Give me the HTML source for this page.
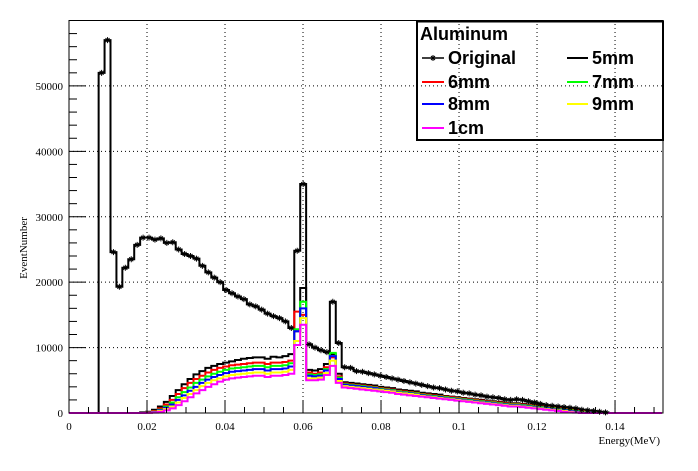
<!DOCTYPE html>
<html><head><meta charset="utf-8"><style>
html,body{margin:0;padding:0;background:#fff}
svg{display:block}
text{font-family:"Liberation Serif",serif}
.lg{font-family:"Liberation Sans",sans-serif;font-weight:bold;font-size:18px}
</style></head><body>
<svg id="chart" width="698" height="471" viewBox="0 0 698 471" xmlns="http://www.w3.org/2000/svg">
<g id="grid"></g>
<g id="series"></g>
<rect x="69" y="20.5" width="594" height="392.5" fill="none" stroke="#000" stroke-width="1"/>
<g id="axes"></g>
<text x="660" y="444" font-size="11" text-anchor="end">Energy(MeV)</text>
<text transform="translate(27,248) rotate(-90)" font-size="11" text-anchor="middle">EventNumber</text>
<g>
<rect x="417" y="21.5" width="246" height="118.5" fill="none" stroke="#000" stroke-width="2"/>
<text class="lg" x="420" y="40">Aluminum</text>
<g><line x1="422" y1="58" x2="444" y2="58" stroke="#000" stroke-width="1.5"/><path d="M430 58h6M433 55v6M431 56l4 4M435 56l-4 4" stroke="#000" stroke-width="1"/><text class="lg" x="448" y="64">Original</text></g>
<g><line x1="567" y1="58" x2="588" y2="58" stroke="#000" stroke-width="2"/><text class="lg" x="592" y="64">5mm</text></g>
<g><line x1="422" y1="82" x2="444" y2="82" stroke="#f00" stroke-width="2"/><text class="lg" x="448" y="88">6mm</text></g>
<g><line x1="567" y1="82" x2="588" y2="82" stroke="#0f0" stroke-width="2"/><text class="lg" x="592" y="88">7mm</text></g>
<g><line x1="422" y1="104" x2="444" y2="104" stroke="#00f" stroke-width="2"/><text class="lg" x="448" y="110">8mm</text></g>
<g><line x1="567" y1="104" x2="588" y2="104" stroke="#ff0" stroke-width="2"/><text class="lg" x="592" y="110">9mm</text></g>
<g><line x1="422" y1="128" x2="444" y2="128" stroke="#f0f" stroke-width="2"/><text class="lg" x="448" y="134">1cm</text></g>
</g>
</svg>
<script>
const binWidth = 0.00152;
const xTicks = [0, 0.02, 0.04, 0.06, 0.08, 0.1, 0.12, 0.14];
const xTickLabels = ["0", "0.02", "0.04", "0.06", "0.08", "0.1", "0.12", "0.14"];
const yTicks = [0, 10000, 20000, 30000, 40000, 50000];
const yTickLabels = ["0", "10000", "20000", "30000", "40000", "50000"];
const original = [0,0,0,0,0,52000,57000,24600,19300,22200,23500,25700,26800,26800,26500,26700,26000,26100,25000,24300,24000,23600,22500,21500,20700,20000,18800,18300,17800,17400,16600,16300,15800,15200,14800,14500,14000,13000,24800,35000,10500,10000,9600,9300,17000,10700,7000,6900,6400,6300,6100,5900,5700,5500,5300,5100,4900,4700,4500,4300,4100,3900,3800,3600,3400,3300,3100,3000,2800,2700,2500,2400,2300,2100,2000,2100,2000,1800,1600,1400,1200,1100,1000,900,800,700,500,400,300,200,100,0,0,0,0,0,0,0,0,0];
const s5mm = [0,0,0,0,0,0,0,0,0,0,0,0,100,200,500,1000,1700,2600,3500,4400,5200,5900,6400,6900,7200,7500,7700,7900,8100,8300,8400,8500,8500,8300,8600,8500,8700,9000,12500,19100,6600,6500,6700,7500,9000,6000,4700,4600,4500,4400,4300,4200,4000,3900,3800,3600,3500,3400,3300,3100,3000,2900,2800,2600,2500,2400,2300,2200,2100,2000,1900,1800,1700,1600,1500,1500,1400,1300,1200,1100,1000,900,800,700,600,500,400,300,200,100,0,0,0,0,0,0,0,0,0,0];
const s6mm = [0,0,0,0,0,0,0,0,0,0,0,0,0,100,300,700,1300,2000,2900,3800,4600,5200,5700,6200,6600,6900,7100,7300,7400,7500,7600,7700,7700,7500,7700,7700,7800,8000,15500,15000,6200,6000,6200,7000,8500,5600,4500,4400,4300,4200,4100,4000,3800,3700,3600,3400,3300,3200,3100,2900,2800,2700,2600,2500,2400,2300,2200,2100,2000,1900,1800,1700,1600,1500,1400,1400,1300,1200,1100,1000,900,800,700,600,500,400,300,200,100,0,0,0,0,0,0,0,0,0,0,0];
const s7mm = [0,0,0,0,0,0,0,0,0,0,0,0,0,50,200,500,1000,1600,2400,3200,3900,4600,5100,5600,6000,6300,6600,6800,6900,7000,7100,7200,7200,7000,7200,7200,7300,7600,12800,17000,5900,5800,5900,6700,9200,5400,4400,4300,4200,4100,4000,3900,3700,3600,3500,3300,3200,3100,3000,2800,2700,2600,2500,2400,2300,2200,2100,2000,1900,1800,1700,1600,1500,1400,1300,1300,1200,1100,1000,900,800,700,600,500,400,300,200,100,50,0,0,0,0,0,0,0,0,0,0,0];
const s8mm = [0,0,0,0,0,0,0,0,0,0,0,0,0,50,150,400,800,1300,2000,2700,3400,4000,4600,5100,5500,5800,6100,6300,6400,6500,6600,6700,6700,6500,6700,6700,6800,7100,12500,16000,5700,5600,5700,6500,8700,5200,4300,4200,4100,4000,3900,3800,3600,3500,3400,3200,3100,3000,2900,2700,2600,2500,2400,2300,2200,2100,2000,1900,1800,1700,1600,1500,1400,1300,1200,1200,1100,1000,900,800,700,600,500,400,300,200,100,50,0,0,0,0,0,0,0,0,0,0,0,0];
const s9mm = [0,0,0,0,0,0,0,0,0,0,0,0,0,30,100,300,600,1000,1600,2300,2900,3500,4100,4600,5000,5300,5600,5800,5900,6000,6100,6200,6200,6000,6200,6200,6300,6600,11000,14500,5300,5300,5400,6100,8000,4900,4100,4000,3900,3800,3700,3600,3500,3400,3300,3100,3000,2900,2800,2600,2500,2400,2300,2200,2100,2000,1900,1800,1700,1600,1500,1400,1300,1200,1100,1100,1000,900,800,700,600,500,400,300,200,100,50,0,0,0,0,0,0,0,0,0,0,0,0,0];
const s1cm = [0,0,0,0,0,0,0,0,0,0,0,0,0,20,60,200,400,700,1200,1800,2400,3000,3500,4000,4400,4800,5100,5300,5400,5500,5600,5700,5700,5500,5700,5700,5800,6000,10400,13500,5000,5000,5100,5800,7200,4600,3900,3800,3700,3600,3500,3400,3300,3200,3100,2900,2800,2700,2600,2500,2400,2300,2200,2100,2000,1900,1800,1700,1600,1500,1400,1300,1200,1100,1000,1000,900,800,700,600,500,400,300,200,100,50,0,0,0,0,0,0,0,0,0,0,0,0,0,0];

const NS = "http://www.w3.org/2000/svg";
const X0 = 69, X1 = 663, XMAX = 0.1523, Y0 = 413, Y1 = 20.5, YMAX = 60000;
function xs(v){ return X0 + v / XMAX * (X1 - X0); }
function ys(v){ return Y0 - v / YMAX * (Y0 - Y1); }
function mk(tag, attrs, parent){ const e = document.createElementNS(NS, tag); for (const k in attrs) e.setAttribute(k, attrs[k]); parent.appendChild(e); return e; }

const grid = document.getElementById('grid');
const axes = document.getElementById('axes');
const series = document.getElementById('series');

xTicks.forEach((t, i) => {
  const x = xs(t);
  if (t > 0) {
    const g = mk('line', {x1:x, y1:Y0, x2:x, y2:Y1, stroke:'#000', 'stroke-width':1, 'stroke-dasharray':'1,3'}, grid);
    
    
  }
  const tk = mk('line', {x1:x, y1:Y0, x2:x, y2:Y0-12, stroke:'#000', 'stroke-width':1}, axes);
  
  
  const lb = mk('text', {x:x, y:430, 'font-size':11, 'text-anchor':'middle'}, axes);
  lb.textContent = xTickLabels[i];
  
  
});
for (let v = 0.005; v < XMAX; v += 0.005) {
  if (Math.abs(v / 0.02 - Math.round(v / 0.02)) < 1e-6) continue;
  const x = xs(v);
  const tk = mk('line', {x1:x, y1:Y0, x2:x, y2:Y0-6, stroke:'#000', 'stroke-width':1}, axes);
  
  
}
yTicks.forEach((t, i) => {
  const y = ys(t);
  if (t > 0) {
    const g = mk('line', {x1:X0, y1:y, x2:X1, y2:y, stroke:'#000', 'stroke-width':1, 'stroke-dasharray':'1,3'}, grid);
    
    
  }
  const tk = mk('line', {x1:X0, y1:y, x2:X0+17, y2:y, stroke:'#000', 'stroke-width':1}, axes);
  
  
  const lb = mk('text', {x:63, y:y+4, 'font-size':11, 'text-anchor':'end'}, axes);
  lb.textContent = yTickLabels[i];
  
  
});
for (let v = 2000; v < YMAX; v += 2000) {
  if (v % 10000 === 0) continue;
  const y = ys(v);
  const tk = mk('line', {x1:X0, y1:y, x2:X0+8, y2:y, stroke:'#000', 'stroke-width':1}, axes);
  
  
}

function histPath(vals){
  let d = 'M' + xs(0) + ' ' + ys(0);
  for (let i = 0; i < vals.length; i++) {
    const xa = xs(i * binWidth), xb = xs((i + 1) * binWidth);
    if (xa > X1) break;
    d += ' L' + xa.toFixed(2) + ' ' + ys(vals[i]).toFixed(2) + ' L' + Math.min(xb, X1).toFixed(2) + ' ' + ys(vals[i]).toFixed(2);
  }
  return d;
}
const list = [
  {vals:original, color:'#000', name:'series-original'},
  {vals:s5mm, color:'#000', name:'series-5mm'},
  {vals:s6mm, color:'#f00', name:'series-6mm'},
  {vals:s7mm, color:'#0f0', name:'series-7mm'},
  {vals:s8mm, color:'#00f', name:'series-8mm'},
  {vals:s9mm, color:'#ff0', name:'series-9mm'},
  {vals:s1cm, color:'#f0f', name:'series-1cm'}
];
list.forEach(s => {
  const p = mk('path', {d:histPath(s.vals), fill:'none', stroke:s.color, 'stroke-width':2, 'stroke-linejoin':'miter'}, series);
  
  
});
original.forEach((v, i) => {
  if (v <= 0) return;
  const x = xs((i + 0.5) * binWidth), y = ys(v);
  const m = mk('path', {d:`M${x-3} ${y}h6M${x} ${y-3}v6M${x-2} ${y-2}l4 4M${x+2} ${y-2}l-4 4`, stroke:'#000', 'stroke-width':1}, series);
  
  
});
</script>
</body></html>
